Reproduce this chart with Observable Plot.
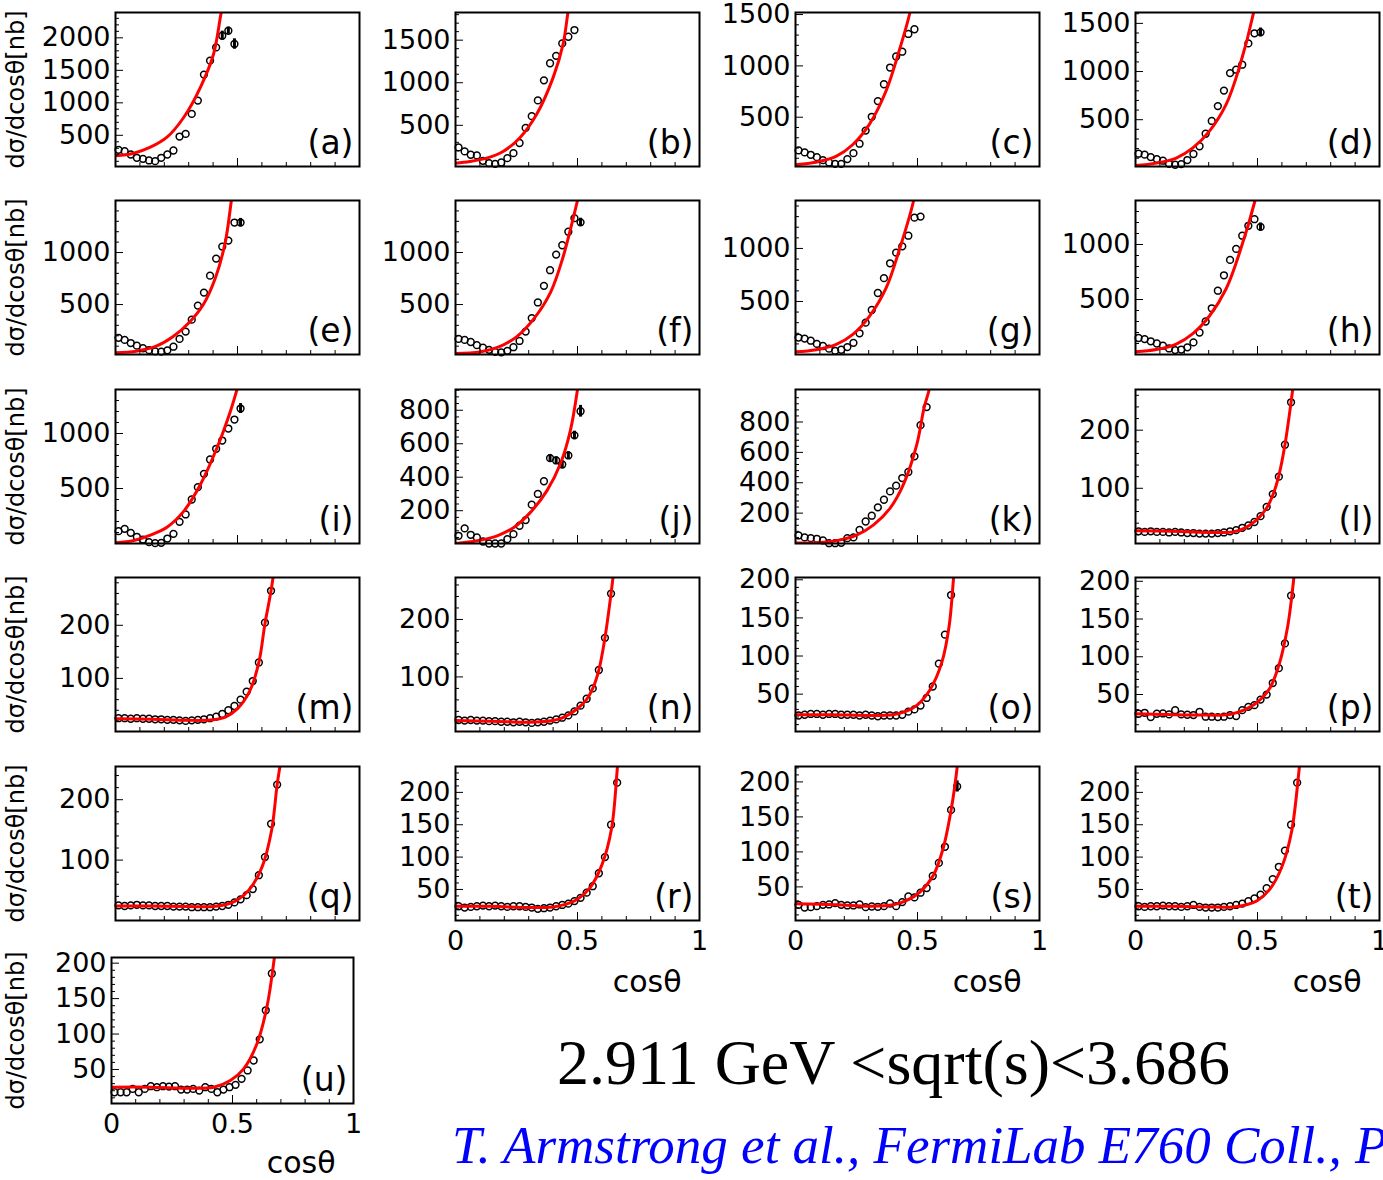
<!DOCTYPE html>
<html><head><meta charset="utf-8">
<script src="https://cdn.jsdelivr.net/npm/d3@7"></script>
<script src="https://cdn.jsdelivr.net/npm/@observablehq/plot@0.6"></script>
<style>
body{margin:0;background:#fff;}
#root{position:relative;width:1383px;height:1180px;overflow:hidden;background:#fff;}
#root svg{position:absolute;overflow:visible;}
.title{position:absolute;white-space:nowrap;line-height:1;font-family:"Liberation Serif","Times New Roman",serif;}
</style></head><body><div id="root"></div>
<script>
// ---- x bin centres (cosθ)
const cosBins = [0.0125,0.0375,0.0625,0.0875,0.1125,0.1375,0.1625,0.1875,0.2125,0.2375,0.2625,0.2875,0.3125,0.3375,0.3625,0.3875,0.4125,0.4375,0.4625,0.4875,0.5125,0.5375,0.5625,0.5875,0.6125,0.6375,0.6625];
const xMajorTicks = [0, 0.5, 1];
const xMinorTicks = [0.1,0.2,0.3,0.4,0.6,0.7,0.8,0.9];
const panelLabels = ["(a)","(b)","(c)","(d)","(e)","(f)","(g)","(h)","(i)","(j)","(k)","(l)","(m)","(n)","(o)","(p)","(q)","(r)","(s)","(t)","(u)"];
const yAxisTitle = "dσ/dcosθ[nb]";
const xAxisTitle = "cosθ";
const titleText = "2.911 GeV <sqrt(s)<3.686";
const citeText = "T. Armstrong et al., FermiLab E760 Coll., P";

// ---- measured dσ/dcosθ per panel
const yA = [276,256,205,154,138,113,102,154,205,266,481,522,829,1034,1434,1649,1853,2033,2109,1905];
const eA = [0,0,0,0,0,0,0,0,0,0,0,0,0,0,0,0,0,70,55,80];
const yB = [240,193,154,146,83,55,47,63,114,173,292,469,607,792,1028,1229,1316,1462,1540,1619];
const yC = [177,157,134,111,82,59,46,46,92,150,242,370,504,657,821,984,1092,1138,1311,1357];
const yD = [147,137,112,91,74,42,32,39,81,144,224,354,487,641,802,984,1019,1071,1292,1397,1407];
const eD = [0,0,0,0,0,0,0,0,0,0,0,0,0,0,0,0,0,0,0,0,45];
const yE = [180,160,130,105,80,62,50,48,60,95,170,240,355,490,615,778,942,1057,1115,1288,1288];
const eE = [0,0,0,0,0,0,0,0,0,0,0,0,0,0,0,0,0,0,0,0,40];
const yF = [170,160,140,110,85,65,45,40,55,90,150,240,370,520,680,830,980,1070,1200,1330,1290];
const eF = [0,0,0,0,0,0,0,0,0,0,0,0,0,0,0,0,0,0,0,0,40];
const yG = [160,150,130,100,80,55,35,45,70,110,200,300,420,580,720,860,960,1020,1120,1290,1300];
const yH = [150,140,120,100,80,55,40,45,65,110,200,300,420,580,720,860,960,1080,1170,1230,1160];
const eH = [0,0,0,0,0,0,0,0,0,0,0,0,0,0,0,0,0,0,0,0,35];
const yI = [112,133,97,61,36,12,3,6,45,88,197,264,400,512,633,764,861,936,1045,1127,1227];
const eI = [0,0,0,0,0,0,0,0,0,0,0,0,0,0,0,0,0,0,0,0,45];
const yJ = [50,94,56,40,16,4,4,4,30,60,110,144,236,300,376,514,500,476,530,650,794];
const eJ = [0,0,0,0,0,0,0,0,0,0,0,0,0,0,0,22,22,22,22,25,35];
const yK = [53,40,35,31,20,2,2,5,35,40,90,145,183,238,288,343,381,431,471,574,779,898];
const yL = [26,25,26,25,25,24,25,24,23,23,22,22,22,23,24,26,28,32,36,42,52,68,90,120,175,248];
const yM = [25,25,24,25,24,24,23,23,22,22,21,20,21,22,23,25,28,33,40,48,60,75,95,130,205,265];
const yN = [25,24,25,24,24,23,23,22,22,21,22,21,20,21,22,24,26,29,33,40,50,62,80,112,168,245];
const yO = [22,23,24,24,23,24,24,23,23,23,22,23,22,21,22,22,22,23,27,30,35,45,60,90,128,180];
const yP = [24.5,25.8,20.1,24.5,24.9,23.6,29.3,23.6,23.2,22.8,27.1,20.6,20.6,20.1,20.6,22.8,21.4,29.3,33.7,35.9,43.3,49.9,65.2,84.9,117.7,181];
const yQ = [25,24,25,26,25,25,24,24,24,23,23,23,22,22,22,22,23,24,26,30,35,42,52,75,105,160,225];
const yR = [24,22,23,24,25,24,25,24,23,24,24,23,22,20,21,22,24,26,28,32,37,45,55,75,100,150,215];
const yS = [24.4,20.6,21.1,22.5,24.4,24.9,26.8,24.4,23.5,23.5,24.9,21.1,22,21.6,22.5,26.3,22.5,28.3,36.4,35,41.7,48.4,65.6,84.3,107.3,160,193.5];
const eS = [0,0,0,0,0,0,0,0,0,0,0,0,0,0,0,0,0,0,0,0,0,0,0,0,0,0,8];
const yT = [24,23,24,24,25,24,24,23,24,26,23,22,22,22,23,24,26,28,32,36,42,52,66,85,110,150,215];
const yU = [17.9,17.9,17.9,22.6,17.9,22.6,26.4,25,26.4,25.9,26.4,21.7,21.7,22.6,20.3,25,22.6,17.9,21.7,25,28.3,36.8,48.6,62.7,92.5,133.5,185.4];

// ---- fit curves: [cosθ, value]
const fitA = [[0,184],[0.075,225],[0.143,317],[0.211,471],[0.28,778],[0.348,1239],[0.402,1751],[0.432,2365],[0.44,2500]];
const fitB = [[0,55],[0.059,75],[0.127,114],[0.195,193],[0.263,351],[0.332,626],[0.4,1060],[0.441,1454],[0.461,1824],[0.47,1950]];
const fitC = [[0,36],[0.098,69],[0.166,118],[0.234,232],[0.302,428],[0.371,755],[0.425,1148],[0.469,1520],[0.475,1600]];
const fitD = [[0,25],[0.085,49],[0.167,102],[0.235,207],[0.303,382],[0.372,662],[0.426,1047],[0.484,1613],[0.49,1700]];
const fitE = [[0,38],[0.085,52],[0.167,100],[0.235,190],[0.303,330],[0.36,500],[0.41,760],[0.45,1100],[0.475,1500],[0.485,1650]];
const fitF = [[0,30],[0.1,45],[0.18,95],[0.25,190],[0.32,360],[0.39,620],[0.44,950],[0.5,1500],[0.51,1600]];
const fitG = [[0,25],[0.085,45],[0.167,95],[0.235,190],[0.303,360],[0.372,630],[0.426,990],[0.484,1452],[0.49,1550]];
const fitH = [[0,25],[0.085,45],[0.167,95],[0.235,190],[0.303,350],[0.372,600],[0.43,950],[0.49,1400],[0.5,1500]];
const fitI = [[0,6],[0.075,27],[0.143,76],[0.211,148],[0.28,294],[0.348,536],[0.416,870],[0.471,1203],[0.498,1400],[0.505,1450]];
const fitJ = [[0,4],[0.089,20],[0.171,50],[0.239,100],[0.307,190],[0.375,320],[0.43,480],[0.471,680],[0.5,924],[0.505,980]];
const fitK = [[0,3],[0.102,7],[0.184,24],[0.252,57],[0.32,123],[0.388,233],[0.442,387],[0.497,651],[0.527,893],[0.548,1014],[0.555,1080]];
const fitL = [[0,27],[0.15,26],[0.3,24],[0.4,25],[0.45,32],[0.5,47],[0.5375,66],[0.5625,88],[0.5875,122],[0.6125,175],[0.6375,248],[0.65,290]];
const fitM = [[0,24],[0.15,23],[0.3,21],[0.4,22],[0.45,27],[0.5,43],[0.55,76],[0.5875,130],[0.6125,203],[0.6375,265],[0.65,305]];
const fitN = [[0,24],[0.15,23],[0.3,21],[0.4,24],[0.45,31],[0.5,45],[0.5375,61],[0.5625,80],[0.5875,112],[0.6125,168],[0.6375,245],[0.65,290]];
const fitO = [[0,23],[0.15,23],[0.3,22],[0.4,23],[0.45,27],[0.5,36],[0.55,55],[0.6,92],[0.63,140],[0.648,203],[0.653,220]];
const fitP = [[0,24.5],[0.126,23.6],[0.263,22.8],[0.386,23.6],[0.441,28.9],[0.496,38.9],[0.551,58.6],[0.592,93.6],[0.622,137],[0.636,168],[0.649,205],[0.655,225]];
const fitQ = [[0,24],[0.15,24],[0.3,23],[0.4,23],[0.45,26],[0.5,34],[0.55,52],[0.6,88],[0.64,150],[0.6625,225],[0.676,260]];
const fitR = [[0,24],[0.15,24],[0.3,22],[0.4,23],[0.45,27],[0.5,35],[0.55,52],[0.6,88],[0.64,145],[0.664,240],[0.67,260]];
const fitS = [[0,25.9],[0.17,24.4],[0.306,22.5],[0.401,24.4],[0.456,30.7],[0.51,42.6],[0.565,66.6],[0.605,104.9],[0.639,162.4],[0.663,222],[0.668,240]];
const fitT = [[0,24],[0.15,24],[0.3,23],[0.4,23],[0.45,26],[0.5,33],[0.55,50],[0.6,85],[0.64,140],[0.672,240],[0.68,265]];
const fitU = [[0,25],[0.161,25],[0.312,23.6],[0.422,25],[0.491,34.4],[0.546,50.9],[0.601,86.3],[0.642,138],[0.673,208],[0.68,230]];

// ---- y ranges and labelled y ticks
const domains = [[20,2390],[16,1825],[20,1520],[14,1613],[20,1500],[20,1500],[0,1452],[0,1400],[0,1400],[4,924],[0,1014],[5,270],[0,290],[5,273],[1,203],[1,205],[0,255],[2,240],[2,222],[2,240],[2,208]];
const yTickSets = [[500,1000,1500,2000],[500,1000,1500],[500,1000,1500],[500,1000,1500],[500,1000],[500,1000],[500,1000],[500,1000],[500,1000],[200,400,600,800],[200,400,600,800],[100,200],[100,200],[100,200],[50,100,150,200],[50,100,150,200],[100,200],[50,100,150,200],[50,100,150,200],[50,100,150,200],[50,100,150,200]];

const series = [yA,yB,yC,yD,yE,yF,yG,yH,yI,yJ,yK,yL,yM,yN,yO,yP,yQ,yR,yS,yT,yU];
const errors = [eA,null,null,eD,eE,eF,null,eH,eI,eJ,null,null,null,null,null,null,null,null,eS,null,null];
const fits = [fitA,fitB,fitC,fitD,fitE,fitF,fitG,fitH,fitI,fitJ,fitK,fitL,fitM,fitN,fitO,fitP,fitQ,fitR,fitS,fitT,fitU];

// ---- layout
const colLeft = [115, 455, 795, 1135];
const rowTop = [12, 200, 389, 577, 766, 957];
const FONT = "'DejaVu Sans', sans-serif";
const root = document.getElementById("root");

series.forEach((ys, i) => {
  const col = i % 4, row = Math.floor(i / 4);
  const last = i === 20;
  const fl = last ? 111 : colLeft[col];
  const ft = rowTop[row];
  const fw = last ? 242 : 244;
  const fh = last ? 146 : 154;
  const ML = col === 0 ? fl : 100;
  const MT = row === 0 ? ft : 14, MR = 6;
  const showX = i >= 17;
  const MB = last ? 76 : (showX ? 80 : 6);
  const errs = errors[i];
  const pts = ys.map((v, k) => ({x: cosBins[k], y: v, e: errs ? errs[k] : 0}));
  const fit = fits[i].map(([x, y]) => ({x, y}));
  const [y0, y1] = domains[i];
  const ticks = yTickSets[i];
  const step = ticks[1] - ticks[0];
  const sub = step / 5;
  const minorY = [];
  for (let k = Math.ceil(y0 / sub); k * sub <= y1; k++) if (k % 5 !== 0) minorY.push(k * sub);
  const marks = [
    Plot.ruleX(pts.filter(d => d.e > 0), {x: "x", y1: d => d.y - d.e, y2: d => d.y + d.e, stroke: "black", strokeWidth: 3}),
    Plot.dot(pts, {x: "x", y: "y", r: 3.4, stroke: "black", strokeWidth: 1.5, fill: "none"}),
    Plot.line(fit, {x: "x", y: "y", stroke: "#ff0000", strokeWidth: 3, curve: "catmull-rom", clip: true}),
    Plot.frame({stroke: "black", strokeWidth: 2}),
    Plot.tickY(minorY, {y: d => d, insetRight: fw - 4, stroke: "black"}),
    Plot.tickY(ticks, {y: d => d, insetRight: fw - 8, stroke: "black"}),
    Plot.tickX(xMinorTicks, {x: d => d, insetTop: fh - 4, stroke: "black"}),
    Plot.tickX([0.5], {x: d => d, insetTop: fh - 8, stroke: "black"}),
    Plot.text([panelLabels[i]], {frameAnchor: "bottom-right", textAnchor: "end", lineAnchor: "bottom", dx: -6, dy: -13, fontSize: 33, fill: "black"})
  ];
  if (showX) marks.push(Plot.text([xAxisTitle], {frameAnchor: "bottom-right", textAnchor: "end", lineAnchor: "middle", dx: -18, dy: last ? 60 : 62, fontSize: 30, fill: "black"}));
  if (col === 0) marks.push(Plot.text([yAxisTitle], {frameAnchor: "left", rotate: -90, textAnchor: "middle", lineAnchor: "middle", dx: 16 - fl, fontSize: 24, fill: "black"}));
  const svg = Plot.plot({
    width: ML + fw + MR,
    height: MT + fh + MB,
    marginLeft: ML, marginRight: MR, marginTop: MT, marginBottom: MB,
    style: {fontFamily: FONT, fontSize: "27px", background: "transparent", overflow: "visible", color: "black"},
    x: {domain: [0, 1], axis: showX ? "bottom" : null, ticks: xMajorTicks, tickSize: 0, tickPadding: 10, tickFormat: d => String(d), label: null},
    y: {domain: [y0, y1], ticks, tickSize: 0, tickPadding: 5, tickFormat: d => String(d), label: null},
    marks
  });
  svg.style.left = (fl - ML) + "px";
  svg.style.top = (ft - MT) + "px";
  root.appendChild(svg);
});

const t = document.createElement("div");
t.className = "title";
t.textContent = titleText;
Object.assign(t.style, {left: "557px", top: "1031px", fontSize: "64px", color: "black"});
root.appendChild(t);
const c = document.createElement("div");
c.className = "title";
c.textContent = citeText;
Object.assign(c.style, {left: "452px", top: "1119px", fontSize: "53px", fontStyle: "italic", color: "#0000ff"});
root.appendChild(c);
</script></body></html>
